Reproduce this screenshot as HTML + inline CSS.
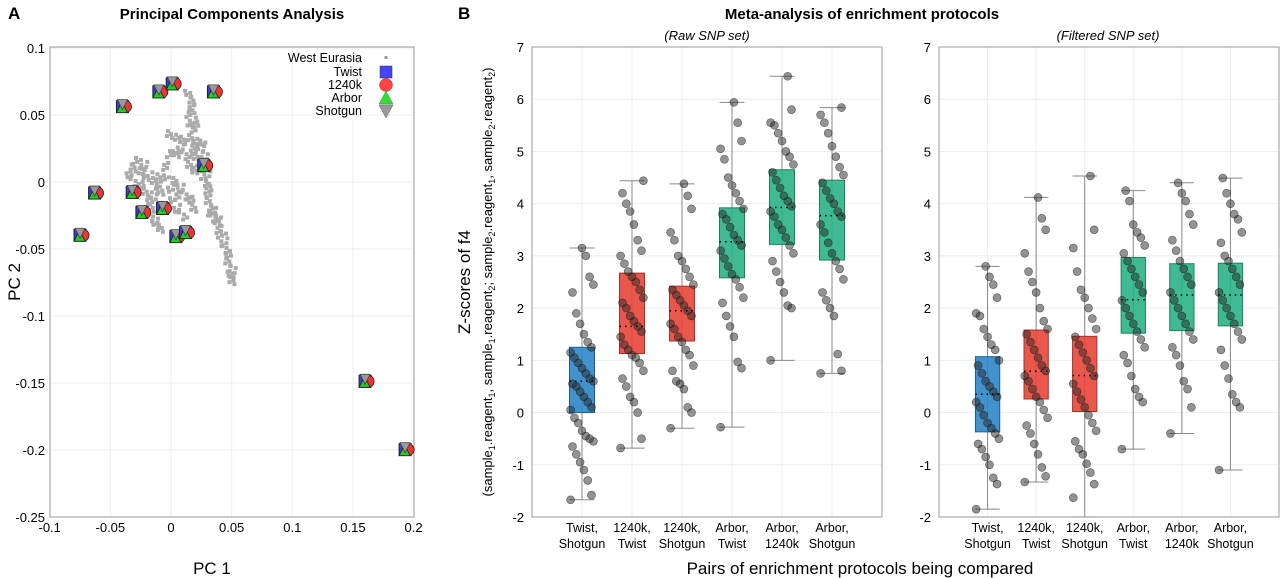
<!DOCTYPE html>
<html><head><meta charset="utf-8"><style>
html,body{margin:0;padding:0;background:#fff;}
svg{display:block;font-family:"Liberation Sans",Arial,sans-serif;}
</style></head><body>
<svg id="fig" width="1280" height="578" viewBox="0 0 1280 578" xmlns="http://www.w3.org/2000/svg">
<text x="8" y="19" font-size="17" font-weight="bold">A</text>
<text x="232" y="19" font-size="15" font-weight="bold" text-anchor="middle">Principal Components Analysis</text>
<text x="458" y="19" font-size="17" font-weight="bold">B</text>
<text x="862" y="19" font-size="15" font-weight="bold" text-anchor="middle">Meta-analysis of enrichment protocols</text>
<text x="707" y="40" font-size="13" font-style="italic" text-anchor="middle">(Raw SNP set)</text>
<text x="1108" y="40" font-size="13" font-style="italic" text-anchor="middle">(Filtered SNP set)</text>
<text x="212" y="574" font-size="17" text-anchor="middle">PC 1</text>
<text transform="translate(20,282) rotate(-90)" font-size="17" text-anchor="middle">PC 2</text>
<text transform="translate(470,282) rotate(-90)" font-size="17" text-anchor="middle">Z-scores of f4</text>
<text transform="translate(492,282) rotate(-90)" font-size="13" text-anchor="middle">(sample<tspan font-size="9" dy="3">1</tspan><tspan dy="-3">.reagent</tspan><tspan font-size="9" dy="3">1</tspan><tspan dy="-3">, sample</tspan><tspan font-size="9" dy="3">1</tspan><tspan dy="-3">.reagent</tspan><tspan font-size="9" dy="3">2</tspan><tspan dy="-3">; sample</tspan><tspan font-size="9" dy="3">2</tspan><tspan dy="-3">.reagent</tspan><tspan font-size="9" dy="3">1</tspan><tspan dy="-3">, sample</tspan><tspan font-size="9" dy="3">2</tspan><tspan dy="-3">.reagent</tspan><tspan font-size="9" dy="3">2</tspan><tspan dy="-3">)</tspan></text>
<text x="860" y="574" font-size="17" text-anchor="middle">Pairs of enrichment protocols being compared</text>
<g id="pca"></g>
<g id="raw"></g>
<g id="filt"></g>
</svg>
<script>
var NS="http://www.w3.org/2000/svg";
function mk(parent,tag,attrs){var e=document.createElementNS(NS,tag);for(var k in attrs)e.setAttribute(k,attrs[k]);parent.appendChild(e);return e;}

// ---------- PCA data ----------
var pcaXTicks=[-0.1,-0.05,0,0.05,0.1,0.15,0.2];
var pcaXTickLabels=["-0.1","-0.05","0","0.05","0.1","0.15","0.2"];
var pcaYTicks=[0.1,0.05,0,-0.05,-0.1,-0.15,-0.2,-0.25];
var pcaYTickLabels=["0.1","0.05","0","-0.05","-0.1","-0.15","-0.2","-0.25"];
var westEurasiaX=[0.015,0.016,0.017,0.016,0.018,0.017,0.02,0.0,0.005,0.01,0.015,0.02,0.025,0.008,0.012,0.018,0.022,0.027,0.005,0.014,0.02,0.025,0.03,0.028,-0.035,-0.03,-0.025,-0.02,-0.015,-0.01,-0.005,0.0,-0.03,-0.025,-0.02,-0.015,-0.008,0.002,0.006,-0.028,-0.022,-0.012,-0.018,-0.015,-0.014,-0.012,-0.01,-0.005,0.0,0.005,0.01,0.03,0.032,0.034,0.035,0.037,0.04,0.042,0.044,0.045,0.047,0.048,0.05,0.05,0.049,0.033,0.038,0.008,0.012,0.016,0.02,0.024,0.026,0.03,-0.004,0.0];
var westEurasiaY=[0.065,0.06,0.055,0.05,0.045,0.04,0.042,0.035,0.033,0.03,0.032,0.03,0.028,0.025,0.02,0.022,0.018,0.02,0.02,0.012,0.01,0.008,0.005,0.0,0.005,0.01,0.008,0.003,0.0,-0.002,0.002,-0.005,0.0,-0.003,-0.008,-0.01,-0.008,0.0,-0.01,0.015,0.012,0.005,-0.015,-0.02,-0.028,-0.032,-0.035,-0.02,-0.015,-0.02,-0.025,-0.01,-0.015,-0.02,-0.025,-0.03,-0.035,-0.04,-0.045,-0.05,-0.055,-0.06,-0.065,-0.07,-0.074,-0.022,-0.028,-0.005,-0.01,-0.014,-0.02,0.026,0.015,-0.004,0.012,0.02];
var sampleX=[-0.075,-0.063,-0.040,-0.032,-0.024,-0.010,-0.007,0.001,0.004,0.012,0.027,0.035,0.160,0.193];
var sampleY=[-0.039,-0.0075,0.057,-0.007,-0.022,0.068,-0.019,0.074,-0.040,-0.037,0.013,0.068,-0.148,-0.199];
var legendLabels=["West Eurasia","Twist","1240k","Arbor","Shotgun"];

function px(v){return 171+v*1213;}
function py(v){return 182-v*1340;}
(function(){
 var g=document.getElementById('pca');
 var L=50,R=414,T=47,B=517;
 mk(g,'rect',{x:L,y:T,width:R-L,height:B-T,fill:'#fff'});
 pcaXTicks.forEach(function(t,i){
  var x=px(t);
  var gl=mk(g,'line',{x1:x,y1:T,x2:x,y2:B,stroke:'#eee','stroke-width':1});
  
  
  var tx=mk(g,'text',{x:x,y:532,'font-size':13,'text-anchor':'middle'});
  tx.textContent=pcaXTickLabels[i];
  
  
 });
 pcaYTicks.forEach(function(t,i){
  var y=py(t);
  var gl=mk(g,'line',{x1:L,y1:y,x2:R,y2:y,stroke:'#eee','stroke-width':1});
  
  
  var tx=mk(g,'text',{x:45,y:y+5,'font-size':13,'text-anchor':'end'});
  tx.textContent=pcaYTickLabels[i];
  
  
 });
 var ax=mk(g,'rect',{x:L,y:T,width:R-L,height:B-T,fill:'none',stroke:'#aaa','stroke-width':1.2});
 
 
 westEurasiaX.forEach(function(v,i){
  var x=px(v),y=py(westEurasiaY[i]);
  for(var k=0;k<4;k++){
   var r=mk(g,'rect',{x:x-2+((i*7+k*5)%9-4),y:y-2+((i*3+k*11)%9-4),width:4,height:4,fill:'#aaa'});
   
   
  }
 });
 sampleX.forEach(function(v,i){
  var x=px(v),y=py(sampleY[i]);
  var sg=mk(g,'g',{});
  
  
  mk(sg,'rect',{x:x-6,y:y-5,width:12,height:12,fill:'#3a3af0',stroke:'#222','stroke-width':1});
  mk(sg,'circle',{cx:x+3,cy:y+1,r:6,fill:'#e33',stroke:'#222','stroke-width':0.8});
  mk(sg,'polygon',{points:(x-6)+','+(y+7)+' '+(x+5)+','+(y+7)+' '+(x-0.5)+','+(y-4),fill:'#2c2',stroke:'#222','stroke-width':0.8});
  mk(sg,'polygon',{points:(x-5)+','+(y-6)+' '+(x+5)+','+(y-6)+' '+x+','+(y+4),fill:'#999',stroke:'#444','stroke-width':0.8});
 });
 var ly=[58,72,85,98,111];
 legendLabels.forEach(function(lab,i){
  var t=mk(g,'text',{x:362,y:ly[i]+4,'font-size':12.5,'text-anchor':'end'});
  t.textContent=lab;
  
  
  var x=386,y=ly[i];
  if(i==0)mk(g,'rect',{x:x-1.5,y:y-2,width:3,height:3,fill:'#999'});
  if(i==1)mk(g,'rect',{x:x-6,y:y-6,width:12,height:12,fill:'#44f',stroke:'#333','stroke-width':0.5});
  if(i==2)mk(g,'circle',{cx:x,cy:y,r:6.5,fill:'#f44',stroke:'#933','stroke-width':0.5});
  if(i==3)mk(g,'polygon',{points:(x-7)+','+(y+6)+' '+(x+7)+','+(y+6)+' '+x+','+(y-7),fill:'#3d3',stroke:'#393','stroke-width':0.5});
  if(i==4)mk(g,'polygon',{points:(x-7)+','+(y-6)+' '+(x+7)+','+(y-6)+' '+x+','+(y+7),fill:'#999',stroke:'#666','stroke-width':0.5});
 });
})();

// ---------- Box plot data ----------
var pairCategories=[["Twist,","Shotgun"],["1240k,","Twist"],["1240k,","Shotgun"],["Arbor,","Twist"],["Arbor,","1240k"],["Arbor,","Shotgun"]];
var zTicks=[7,6,5,4,3,2,1,0,-1,-2];
var zTickLabels=["7","6","5","4","3","2","1","0","-1","-2"];
var rawQ1=[0,1.13,1.37,2.58,3.22,2.92];
var rawMedian=[0.6,1.65,1.95,3.27,3.93,3.77];
var rawQ3=[1.25,2.67,2.42,3.92,4.65,4.45];
var rawWhiskerLow=[-1.67,-0.68,-0.3,-0.28,1.0,0.75];
var rawWhiskerHigh=[3.15,4.44,4.38,5.94,6.44,5.84];
var rawPoints0=[-1.67,-1.58,-1.3,-1.1,-0.95,-0.8,-0.65,-0.55,-0.5,-0.45,-0.35,-0.2,-0.1,0.05,0.1,0.2,0.3,0.4,0.5,0.55,0.6,0.65,0.75,0.85,0.95,1.05,1.15,1.25,1.35,1.5,1.7,1.9,2.3,2.45,2.6,3.0,3.15];
var rawPoints1=[-0.68,-0.5,0.0,0.2,0.3,0.5,0.65,0.8,0.95,1.05,1.1,1.2,1.3,1.45,1.55,1.65,1.75,1.85,2.0,2.1,2.2,2.35,2.5,2.6,2.7,2.85,3.0,3.1,3.3,3.6,3.85,4.0,4.2,4.44];
var rawPoints2=[-0.3,0.0,0.1,0.45,0.55,0.6,0.8,0.9,1.1,1.2,1.35,1.45,1.6,1.7,1.85,1.95,2.05,2.15,2.25,2.35,2.45,2.6,2.75,2.9,3.0,3.3,3.45,3.9,4.15,4.38];
var rawPoints3=[-0.28,0.85,0.97,1.45,1.65,1.85,2.1,2.2,2.4,2.55,2.65,2.8,2.95,3.1,3.2,3.3,3.4,3.55,3.7,3.8,3.9,4.05,4.2,4.35,4.5,4.85,5.05,5.2,5.55,5.94];
var rawPoints4=[1.0,2.0,2.05,2.3,2.5,2.7,2.9,3.05,3.2,3.35,3.5,3.6,3.75,3.85,3.95,4.05,4.15,4.3,4.45,4.6,4.75,4.9,5.0,5.2,5.35,5.5,5.55,5.8,6.44];
var rawPoints5=[0.75,0.8,1.12,1.85,2.0,2.15,2.3,2.55,2.75,2.9,3.05,3.25,3.45,3.6,3.75,3.85,4.0,4.1,4.25,4.4,4.55,4.7,4.9,5.1,5.35,5.55,5.7,5.84];
var filtQ1=[-0.37,0.26,0.02,1.52,1.57,1.66];
var filtMedian=[0.35,0.79,0.71,2.16,2.25,2.25];
var filtQ3=[1.07,1.58,1.46,2.97,2.85,2.86];
var filtWhiskerLow=[-1.85,-1.33,-2.0,-0.7,-0.4,-1.1];
var filtWhiskerHigh=[2.8,4.12,4.53,4.25,4.4,4.49];
var filtPoints0=[-1.85,-1.37,-1.25,-1.0,-0.85,-0.7,-0.6,-0.5,-0.4,-0.3,-0.2,-0.05,0.1,0.2,0.3,0.4,0.5,0.6,0.75,0.9,1.0,1.2,1.3,1.45,1.6,1.85,1.9,2.2,2.45,2.6,2.8];
var filtPoints1=[-1.33,-1.22,-1.05,-0.8,-0.6,-0.4,-0.25,-0.1,0.05,0.2,0.3,0.45,0.6,0.7,0.8,0.9,1.05,1.2,1.35,1.5,1.6,1.75,2.0,2.3,2.5,2.7,3.05,3.5,3.72,4.12];
var filtPoints2=[-1.63,-1.37,-1.15,-0.98,-0.8,-0.7,-0.55,-0.35,-0.2,-0.05,0.1,0.25,0.4,0.55,0.7,0.85,1.0,1.15,1.3,1.45,1.6,1.8,2.0,2.2,2.35,2.7,3.15,3.5,4.53];
var filtPoints3=[-0.7,0.2,0.3,0.45,0.7,0.95,1.1,1.25,1.4,1.55,1.7,1.85,2.0,2.15,2.3,2.45,2.6,2.75,2.9,3.05,3.2,3.35,3.45,3.6,4.05,4.25];
var filtPoints4=[-0.4,0.1,0.45,0.6,0.9,1.1,1.25,1.4,1.55,1.7,1.85,2.0,2.15,2.3,2.45,2.6,2.75,2.9,3.1,3.3,3.6,3.8,4.05,4.2,4.4];
var filtPoints5=[-1.1,0.1,0.2,0.35,0.65,0.9,1.2,1.4,1.55,1.7,1.85,2.0,2.15,2.3,2.45,2.6,2.75,2.9,3.0,3.25,3.45,3.7,3.8,4.0,4.2,4.49];
var boxColors=["#2f86c8","#e8453a","#e8453a","#2bb387","#2bb387","#2bb387"];
var boxStroke=["#1f5f90","#a8302a","#a8302a","#1f8060","#1f8060","#1f8060"];

function drawBox(gid,L,R,q1,med,q3,wl,wh,pts,prefix){
 var g=document.getElementById(gid);
 var T=47,B=517;
 function zy(v){return B-(v+2)/9*(B-T);}
 var step=(R-L)/7;
 function cx(i){return L+step*(i+1);}
 mk(g,'rect',{x:L,y:T,width:R-L,height:B-T,fill:'#fff'});
 zTicks.forEach(function(t,i){
  var y=zy(t);
  var gl=mk(g,'line',{x1:L,y1:y,x2:R,y2:y,stroke:'#eee','stroke-width':1});
  
  
  var tx=mk(g,'text',{x:L-8,y:y+5,'font-size':13,'text-anchor':'end'});
  tx.textContent=zTickLabels[i];
  
  
 });
 pairCategories.forEach(function(c,i){
  var x=cx(i);
  var gl=mk(g,'line',{x1:x,y1:T,x2:x,y2:B,stroke:'#eee','stroke-width':1});
  
  
  var t1=mk(g,'text',{x:x,y:532,'font-size':12.5,'text-anchor':'middle'});
  t1.textContent=c[0];
  
  
  var t2=mk(g,'text',{x:x,y:548,'font-size':12.5,'text-anchor':'middle'});
  t2.textContent=c[1];
  
  
 });
 var fr=mk(g,'rect',{x:L,y:T,width:R-L,height:B-T,fill:'none',stroke:'#999','stroke-width':1});
 
 
 pairCategories.forEach(function(c,i){
  var x=cx(i),bw=step*0.5;
  var w=mk(g,'line',{x1:x,y1:zy(wl[i]),x2:x,y2:zy(wh[i]),stroke:'#888','stroke-width':1});
  
  
  [wl[i],wh[i]].forEach(function(v){
   var cap=mk(g,'line',{x1:x-bw/2,y1:zy(v),x2:x+bw/2,y2:zy(v),stroke:'#888','stroke-width':1});
   
   
  });
  var b=mk(g,'rect',{x:x-bw/2,y:zy(q3[i]),width:bw,height:zy(q1[i])-zy(q3[i]),fill:boxColors[i],'fill-opacity':0.9,stroke:boxStroke[i],'stroke-width':1});
  
  
  pts[i].forEach(function(v,j){
   var off=(((j*37)%13)-6)*1.9;
   var p=mk(g,'circle',{cx:x+off,cy:zy(v),r:4,fill:'rgba(40,40,40,0.5)',stroke:'rgba(20,20,20,0.6)','stroke-width':0.6});
   
   
  });
  var m=mk(g,'line',{x1:x-bw/2,y1:zy(med[i]),x2:x+bw/2,y2:zy(med[i]),stroke:'#000','stroke-width':1.5,'stroke-dasharray':'1.5,4'});
  
  
 });
}
drawBox('raw',532,882,rawQ1,rawMedian,rawQ3,rawWhiskerLow,rawWhiskerHigh,[rawPoints0,rawPoints1,rawPoints2,rawPoints3,rawPoints4,rawPoints5],'raw');
drawBox('filt',939,1279,filtQ1,filtMedian,filtQ3,filtWhiskerLow,filtWhiskerHigh,[filtPoints0,filtPoints1,filtPoints2,filtPoints3,filtPoints4,filtPoints5],'filtered');
</script>
</body></html>
